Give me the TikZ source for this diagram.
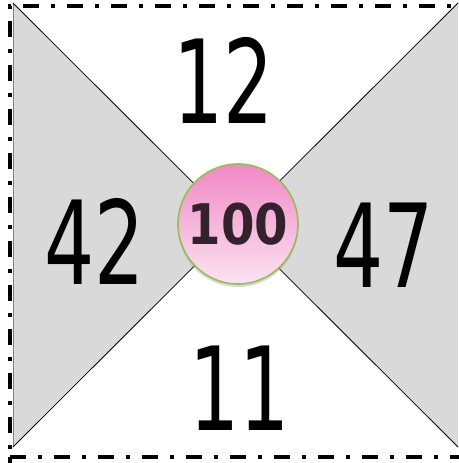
\documentclass[tikz,border=0pt]{standalone}
\usepackage{fontspec}
\usetikzlibrary{shadows}
\newfontfamily\numfont{DejaVu Sans}
\definecolor{trigray}{HTML}{D9D9D9}
\definecolor{pinktop}{HTML}{F088C6}
\definecolor{pinkbot}{HTML}{FBE4F0}
\definecolor{ringgreen}{HTML}{9BBB59}
\definecolor{hundred}{HTML}{33222B}
\tikzset{
  bignum/.style={font=\numfont\fontsize{116}{116}\selectfont, xscale=0.68, inner sep=0pt, text=black},
  diag/.style={draw=black, line width=0.8pt},
  border/.style={draw=black, line width=4pt, dash pattern=on 16pt off 12pt on 4pt off 12pt},
  hfont/.style={font=\numfont\bfseries\fontsize{56}{56}\selectfont, xscale=0.86, inner sep=0pt},
}
\begin{document}
\begin{tikzpicture}[x=1pt,y=-1pt]
\useasboundingbox (0,0) rectangle (458,463);
\coordinate (tl) at (13,3);
\coordinate (tr) at (458,3);
\coordinate (bl) at (13,447);
\coordinate (br) at (458,447);
\coordinate (c) at (235.5,225);
\fill[white] (tl) rectangle (br);
\fill[trigray] (tl) -- (c) -- (bl) -- cycle;
\fill[trigray] (tr) -- (c) -- (br) -- cycle;
\draw[gray, line width=0.6pt] (tl) -- (bl);
\draw[diag] (tl) -- (br);
\draw[diag] (bl) -- (tr);
\draw[border, dash phase=20pt] (10,457) -- (10,6) -- (470,6);
\draw[border, dash phase=0pt] (10,457) -- (470,457);
\draw[border] (10,470) -- (10,457);
\node[bignum] (n12) at (224,80) {12};
\node[bignum] (n42) at (95,241) {42};
\node[bignum] (n47) at (384,245) {47};
\node[bignum] (n11) at (240,388) {11};
\node[circle, minimum size=120pt, draw=ringgreen, line width=1.6pt,
      top color=pinktop, bottom color=pinkbot,
      drop shadow={opacity=0.3, shadow xshift=0pt, shadow yshift=-3pt}] (ring) at (238,224) {};
\node[hfont, text=hundred] (h) at (ring) {100};
\end{tikzpicture}
\end{document}
